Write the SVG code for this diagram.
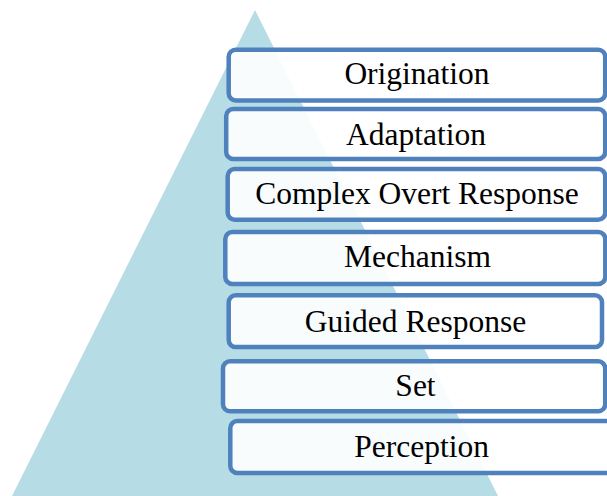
<svg xmlns="http://www.w3.org/2000/svg" width="607" height="496" viewBox="0 0 607 496">
<style>
.box{fill:#ffffff;fill-opacity:0.9;stroke:#4f81bd;stroke-width:4.5}
.lbl{font-family:"Liberation Serif","Times New Roman",serif;font-size:31.5px;fill:#000;text-anchor:middle}
</style>
<rect x="0" y="0" width="607" height="496" fill="#ffffff"/>
<polygon id="pyramid" points="255,10 12,496 498,496" fill="#b6dde6"/>
<g id="connectors"></g>
<g id="n1"><rect class="box" x="228.7" y="49.7" width="376.5" height="50.8" rx="7"/><text class="lbl" x="417" y="83.5">Origination</text></g>
<g id="n2"><rect class="box" x="226.2" y="109" width="379" height="50" rx="7"/><text class="lbl" x="416" y="144.5">Adaptation</text></g>
<g id="n3"><rect class="box" x="227.7" y="169" width="377.5" height="50.7" rx="7"/><text class="lbl" x="417" y="204.3">Complex Overt Response</text></g>
<g id="n4"><rect class="box" x="225.3" y="232" width="380" height="52" rx="7"/><text class="lbl" x="417.5" y="267.3">Mechanism</text></g>
<g id="n5"><rect class="box" x="228.7" y="295.3" width="373.3" height="51.8" rx="7"/><text class="lbl" x="415.5" y="331.7">Guided Response</text></g>
<g id="n6"><rect class="box" x="223" y="361.3" width="382.2" height="50" rx="7"/><text class="lbl" x="415.5" y="396">Set</text></g>
<g id="n7"><rect class="box" x="230.3" y="421" width="382.7" height="52" rx="7"/><text class="lbl" x="421.7" y="456.7">Perception</text></g>
</svg>
